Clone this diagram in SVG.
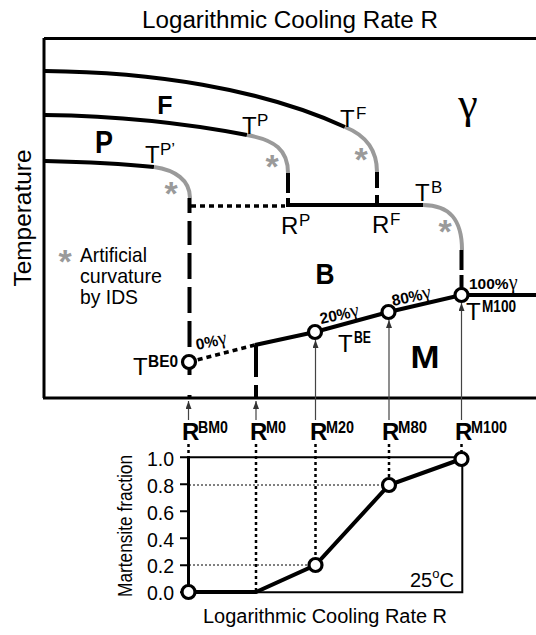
<svg xmlns="http://www.w3.org/2000/svg" width="536" height="635" viewBox="0 0 536 635">
<defs>
<marker id="ah" viewBox="0 0 8 6" refX="8" refY="3" markerWidth="8" markerHeight="6" orient="auto" markerUnits="userSpaceOnUse">
<path d="M0,0 L8,3 L0,6 Z" fill="#333"/>
</marker>
<style>
text{font-family:"Liberation Sans",Arial,sans-serif;fill:#000}
.ax{fill:none;stroke:#000;stroke-width:3}
.ax2{fill:none;stroke:#000;stroke-width:2}
.cv{fill:none;stroke:#000;stroke-width:4}
.gr{fill:none;stroke:#9a9a9a;stroke-width:4}
.dash{fill:none;stroke:#000;stroke-width:4}
.dot{fill:none;stroke:#000;stroke-width:3.5;stroke-dasharray:5 4}
.thin{fill:none;stroke:#444;stroke-width:1.2}
.vdot{fill:none;stroke:#000;stroke-width:2.5;stroke-dasharray:3 3}
.hdot{fill:none;stroke:#000;stroke-width:1;stroke-dasharray:2 2}
.pt{fill:#fff;stroke:#000;stroke-width:3.2}
.m{font-size:24px}
.s1{font-size:17px}
.sb{font-size:16px;font-weight:bold}
.big{font-weight:bold}
.ast{font-size:34px;font-weight:bold;fill:#9a9a9a;text-anchor:middle}
.pc{font-size:15.5px;font-weight:bold}
.g{font-family:"Liberation Serif","Times New Roman",serif;font-weight:normal;font-size:20px}
.tk{font-size:19.5px;text-anchor:end}
</style>
</defs>

<text x="290" y="28" font-size="23" text-anchor="middle" textLength="296" lengthAdjust="spacingAndGlyphs">Logarithmic Cooling Rate R</text>
<text transform="translate(31,218) rotate(-90)" font-size="23" text-anchor="middle" textLength="137" lengthAdjust="spacingAndGlyphs">Temperature</text>

<g id="top-frame">
<path class="ax" d="M44,38.5 H536 M44,38 V398 M43,398 H536"/>
</g>

<g id="curve-F">
<path class="cv" d="M45,71 C150,72 260,88 345,127"/>
<path class="gr" d="M345,127 C365,135 377,150 377,172"/>
<path class="dash" d="M377,172 V205" stroke-dasharray="16 7 11"/>
</g>
<g id="curve-P">
<path class="cv" d="M45,115 C120,116 190,124 247,135"/>
<path class="gr" d="M247,135 C275,140 288,150 288,173"/>
<path class="dash" d="M288,173 V205" stroke-dasharray="20 5 8"/>
</g>
<g id="curve-Pp">
<path class="cv" d="M45,161 C90,162 125,164 154,167"/>
<path class="gr" d="M154,167 C175,170 190,180 190,198"/>
<path class="dash" d="M189.5,198 V398" stroke-dasharray="15 8 24 8 26 8 26 8 26 8 20 20 18 5 8"/>
</g>
<g id="curve-B">
<path class="dot" d="M191,206 H285"/>
<path class="cv" d="M286,205 H424"/>
<path class="gr" d="M423,205 C450,205 462,220 462,250"/>
<path class="dash" d="M461.5,250 V288" stroke-dasharray="20 5 13"/>
</g>
<g id="curve-M">
<path class="dot" d="M189,362 L255,345"/>
<path class="cv" d="M255,345 L315,332 L388.5,312 L461.5,295 H536"/>
<path class="dash" d="M256,345 V398" stroke-dasharray="32 8 14"/>
<circle class="pt" cx="189" cy="362" r="6.5"/>
<circle class="pt" cx="315" cy="332" r="6.5"/>
<circle class="pt" cx="388.5" cy="312" r="6.5"/>
<circle class="pt" cx="461.5" cy="295" r="6.5"/>
</g>

<g id="asterisks">
<text class="ast" x="171" y="205">*</text>
<text class="ast" x="272" y="178">*</text>
<text class="ast" x="361" y="171">*</text>
<text class="ast" x="445" y="243">*</text>
<text class="ast" x="65" y="273">*</text>
</g>

<g id="legend">
<text x="80" y="262" font-size="21" textLength="67" lengthAdjust="spacingAndGlyphs">Artificial</text>
<text x="80" y="283" font-size="21" textLength="82" lengthAdjust="spacingAndGlyphs">curvature</text>
<text x="80" y="304" font-size="21" textLength="58" lengthAdjust="spacingAndGlyphs">by IDS</text>
</g>

<g id="phase-labels">
<text class="big" x="165" y="114" font-size="25" text-anchor="middle">F</text>
<text class="big" x="104" y="153" font-size="31" text-anchor="middle" textLength="18" lengthAdjust="spacingAndGlyphs">P</text>
<text class="big" x="325" y="284" font-size="29" text-anchor="middle" textLength="19" lengthAdjust="spacingAndGlyphs">B</text>
<text class="big" x="425" y="368" font-size="31" text-anchor="middle" textLength="29" lengthAdjust="spacingAndGlyphs">M</text>
<text x="468" y="118" font-size="44" text-anchor="middle" style="font-family:'Liberation Serif',serif">γ</text>
</g>

<g id="temp-labels">
<text class="m" x="145" y="163">T</text><text class="s1" x="160" y="155">P’</text>
<text class="m" x="242" y="134">T</text><text class="s1" x="257" y="126">P</text>
<text class="m" x="340" y="127">T</text><text class="s1" x="356" y="119">F</text>
<text class="m" x="415" y="201">T</text><text class="s1" x="431" y="193">B</text>
<text class="m" x="281" y="234">R</text><text class="s1" x="299" y="226">P</text>
<text class="m" x="372" y="233">R</text><text class="s1" x="390" y="225">F</text>
<text class="m" x="133" y="375">T</text><text class="sb" x="148" y="366.5" textLength="30" lengthAdjust="spacingAndGlyphs">BE0</text>
<text class="m" x="338" y="352">T</text><text class="sb" x="354" y="343" textLength="17" lengthAdjust="spacingAndGlyphs">BE</text>
<text class="m" x="466" y="320">T</text><text class="sb" x="482" y="312" textLength="34" lengthAdjust="spacingAndGlyphs">M100</text>
</g>

<g id="pct-labels">
<text class="pc" transform="rotate(-12,197,350)" x="197" y="350">0%<tspan class="g">γ</tspan></text>
<text class="pc" transform="rotate(-12,321,324)" x="321" y="324">20%<tspan class="g">γ</tspan></text>
<text class="pc" transform="rotate(-12,393,306)" x="393" y="306">80%<tspan class="g">γ</tspan></text>
<text class="pc" x="469" y="289">100%<tspan class="g">γ</tspan></text>
</g>

<g id="connectors">
<path class="thin" d="M188.5,420 V401" marker-end="url(#ah)"/>
<path class="thin" d="M256,420 V401" marker-end="url(#ah)"/>
<path class="thin" d="M315.5,420 V340" marker-end="url(#ah)"/>
<path class="thin" d="M389,420 V320" marker-end="url(#ah)"/>
<path class="thin" d="M461.5,420 V303" marker-end="url(#ah)"/>
</g>

<g id="rate-labels">
<text class="m big" x="182" y="440">R</text><text class="sb" x="198" y="433" textLength="30" lengthAdjust="spacingAndGlyphs">BM0</text>
<text class="m big" x="250" y="440">R</text><text class="sb" x="266" y="433" textLength="20" lengthAdjust="spacingAndGlyphs">M0</text>
<text class="m big" x="310" y="440">R</text><text class="sb" x="326" y="433" textLength="28" lengthAdjust="spacingAndGlyphs">M20</text>
<text class="m big" x="382" y="440">R</text><text class="sb" x="398" y="433" textLength="29" lengthAdjust="spacingAndGlyphs">M80</text>
<text class="m big" x="455" y="440">R</text><text class="sb" x="471" y="433" textLength="36" lengthAdjust="spacingAndGlyphs">M100</text>
</g>

<g id="fraction-plot">
<path class="hdot" d="M189,485 H389 M189,565 H315"/>
<path class="vdot" d="M188.5,444 V457 M256,444 V592 M315.5,444 V558 M389,444 V478 M461.5,444 V452"/>
<path class="ax2" d="M188.5,457.3 H462.3 V592.3 H188.5"/>
<path class="ax" d="M188.5,456 V593"/>
<path class="ax2" d="M180,457.3 H188 M180,484.3 H188 M180,511.3 H188 M180,538.3 H188 M180,565.3 H188 M180,592.3 H188"/>
<path class="cv" d="M188.5,592 H256 L315.5,565 L389,485 L461.5,459"/>
<circle class="pt" cx="188.5" cy="592" r="6.5"/>
<circle class="pt" cx="315.5" cy="565" r="6.5"/>
<circle class="pt" cx="389" cy="485" r="6.5"/>
<circle class="pt" cx="461.5" cy="459" r="6.5"/>
<text class="tk" x="174" y="466">1.0</text>
<text class="tk" x="174" y="493">0.8</text>
<text class="tk" x="174" y="520">0.6</text>
<text class="tk" x="174" y="547">0.4</text>
<text class="tk" x="174" y="573">0.2</text>
<text class="tk" x="174" y="600">0.0</text>
<text x="410" y="587" font-size="20">25<tspan font-size="13" dy="-9">o</tspan><tspan dy="9">C</tspan></text>
<text transform="translate(132,526) rotate(-90)" font-size="20" text-anchor="middle" textLength="142" lengthAdjust="spacingAndGlyphs">Martensite fraction</text>
<text x="325" y="623" font-size="20" text-anchor="middle" textLength="244" lengthAdjust="spacingAndGlyphs">Logarithmic Cooling Rate R</text>
</g>
</svg>
